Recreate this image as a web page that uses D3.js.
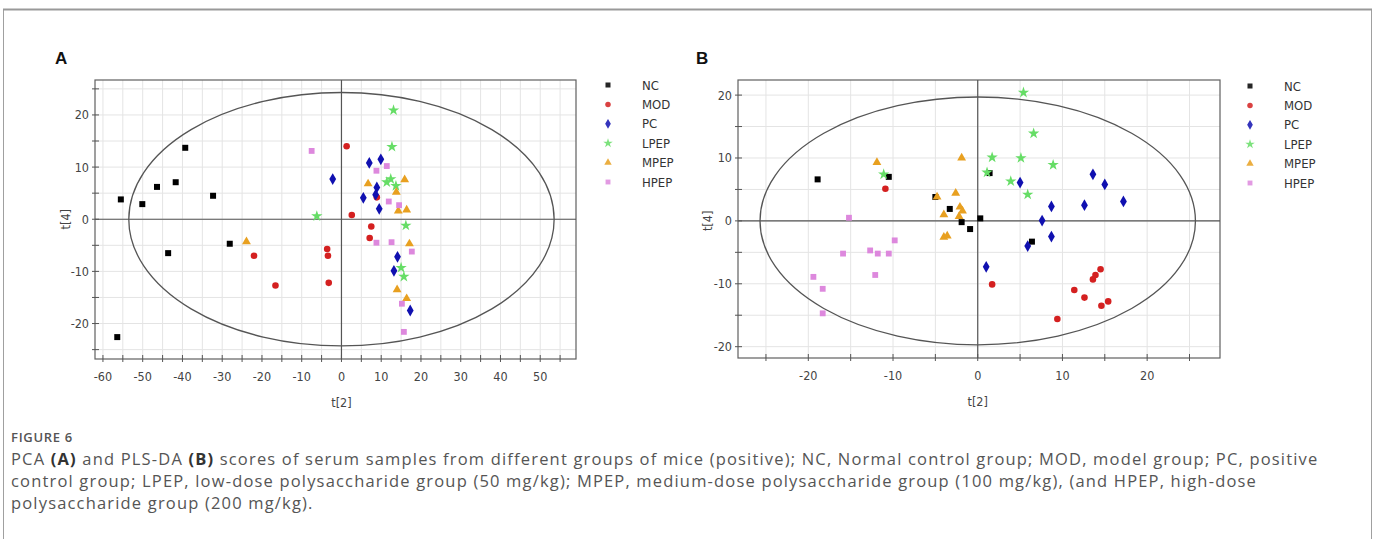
<!DOCTYPE html>
<html>
<head>
<meta charset="utf-8">
<script src="https://cdn.jsdelivr.net/npm/d3@7"></script>
<style>
  body { margin: 0; background: #fff; }
  svg { display: block; }
  .tick-label { font-family: "Liberation Sans Narrow", "Arial Narrow", "DejaVu Sans Condensed", sans-serif; font-size: 12.5px; fill: #444; }
  .legend-label { font-family: "Liberation Sans Narrow", "Arial Narrow", "DejaVu Sans Condensed", sans-serif; font-size: 13px; fill: #333; }
  .caption { font-family: "Open Sans", "Noto Sans", sans-serif; fill: #555; }
</style>
</head>
<body>
<script>
// canvas size
var w = 1375;
var h = 539;

// group names shared by both panels
var groups = ["NC", "MOD", "PC", "LPEP", "MPEP", "HPEP"];

// panel A (PCA) scores, [t2, t4]
var pcaNC = [[-55.5, 3.8], [-50.1, 2.9], [-46.4, 6.2], [-41.7, 7.1], [-39.3, 13.7], [-32.3, 4.5], [-43.6, -6.5], [-28.1, -4.7], [-56.4, -22.6]];
var pcaMOD = [[1.3, 14.0], [2.6, 0.8], [-22.0, -7.0], [-16.6, -12.7], [-3.6, -5.7], [-3.4, -7.0], [-3.2, -12.2], [7.5, -1.4], [7.1, -3.6], [8.9, 4.2]];
var pcaPC = [[-2.2, 7.7], [7.0, 10.8], [9.9, 11.5], [8.9, 6.1], [8.6, 4.7], [5.5, 4.1], [9.5, 2.0], [14.1, -7.2], [13.2, -9.9], [17.3, -17.5]];
var pcaLPEP = [[-6.2, 0.6], [13.1, 20.9], [12.7, 13.9], [12.4, 7.7], [11.4, 7.1], [13.7, 6.4], [16.2, -1.2], [15.0, -9.3], [15.7, -11.0]];
var pcaMPEP = [[-23.9, -4.3], [6.7, 6.8], [15.9, 7.6], [13.8, 5.2], [14.3, 1.6], [16.4, 1.8], [17.1, -4.7], [14.0, -13.5], [16.4, -15.2]];
var pcaHPEP = [[-7.5, 13.1], [8.8, 9.3], [11.4, 10.2], [11.9, 3.4], [14.5, 2.7], [8.8, -4.5], [12.6, -4.4], [17.7, -6.2], [15.2, -16.2], [15.7, -21.6]];

// panel B (PLS-DA) scores, [t2, t4]
var plsNC = [[-18.9, 6.6], [-10.5, 7.0], [-5.0, 3.8], [-3.3, 1.9], [-1.9, -0.2], [-0.9, -1.3], [0.3, 0.4], [1.4, 7.6], [6.4, -3.3]];
var plsMOD = [[-10.9, 5.1], [1.7, -10.1], [9.4, -15.6], [11.4, -11.0], [12.6, -12.2], [13.6, -9.3], [13.9, -8.6], [14.5, -7.7], [14.6, -13.5], [15.4, -12.8]];
var plsPC = [[1.0, -7.3], [5.0, 6.1], [5.9, -4.0], [7.6, 0.05], [8.7, 2.3], [8.7, -2.5], [12.6, 2.5], [13.6, 7.4], [15.0, 5.8], [17.2, 3.1]];
var plsLPEP = [[-11.1, 7.4], [5.4, 20.4], [6.6, 13.9], [1.7, 10.1], [5.1, 10.0], [8.9, 8.9], [1.1, 7.7], [3.9, 6.3], [5.9, 4.2]];
var plsMPEP = [[-11.9, 9.3], [-4.8, 3.8], [-1.9, 10.0], [-2.6, 4.4], [-2.1, 2.2], [-1.8, 1.6], [-4.0, 1.0], [-2.2, 0.7], [-4.0, -2.6], [-3.6, -2.4]];
var plsHPEP = [[-15.2, 0.5], [-9.8, -3.1], [-15.9, -5.2], [-12.7, -4.7], [-11.8, -5.2], [-10.5, -5.2], [-12.1, -8.6], [-19.4, -8.9], [-18.3, -10.8], [-18.3, -14.7]];

// axis ticks (minor every 5, labels every 10)
var pcaXTicks = d3.range(-60, 56, 5);
var pcaXLabels = [-60, -50, -40, -30, -20, -10, 0, 10, 20, 30, 40, 50];
var pcaYTicks = d3.range(-25, 26, 5);
var pcaYLabels = [-20, -10, 0, 10, 20];
var plsXTicks = d3.range(-25, 26, 5);
var plsXLabels = [-20, -10, 0, 10, 20];
var plsYTicks = d3.range(-20, 21, 5);
var plsYLabels = [-20, -10, 0, 10, 20];

// Hotelling T2 ellipse half-axes
var pcaEllipse = [53.5, 24.3];
var plsEllipse = [25.7, 19.7];

// style for each group
var colors = ["#000000", "#d42020", "#1010b0", "#66dd66", "#e8a020", "#dd88dd"];
var shapes = [d3.symbolSquare, d3.symbolCircle, d3.symbolDiamond, d3.symbolStar, d3.symbolTriangle, d3.symbolSquare];
var sizes = [36, 34, 40, 40, 34, 34];

var svg = d3.select("body")
            .append("svg")
            .attr("width", w)
            .attr("height", h);

// outer figure frame
svg.append("rect")
   .attr("x", 3.5).attr("y", 9.5)
   .attr("width", 1368).attr("height", 545)
   .attr("fill", "none")
   .attr("stroke", "#a0a0a0")
   .attr("stroke-width", 1);
svg.append("line")
   .attr("x1", 3).attr("x2", 1372).attr("y1", 9.5).attr("y2", 9.5)
   .attr("stroke", "#999").attr("stroke-width", 2);

function drawPanel(cfg) {
    var g = svg.append("g");
    var x = d3.scaleLinear().domain(cfg.xDomain).range(cfg.xRange);
    var y = d3.scaleLinear().domain(cfg.yDomain).range(cfg.yRange);
    var x0 = cfg.xRange[0], x1 = cfg.xRange[1];
    var y0 = cfg.yRange[1], y1 = cfg.yRange[0];

    // grid lines
    g.selectAll(".vgrid").data(cfg.xTicks).enter().append("line")
        .attr("x1", d => x(d)).attr("x2", d => x(d))
        .attr("y1", y0).attr("y2", y1)
        .attr("stroke", "#e4e4e4").attr("stroke-width", 1);
    g.selectAll(".hgrid").data(cfg.yTicks).enter().append("line")
        .attr("y1", d => y(d)).attr("y2", d => y(d))
        .attr("x1", x0).attr("x2", x1)
        .attr("stroke", "#e4e4e4").attr("stroke-width", 1);

    // plot frame
    g.append("rect")
        .attr("x", x0).attr("y", y0)
        .attr("width", x1 - x0).attr("height", y1 - y0)
        .attr("fill", "none").attr("stroke", "#606060").attr("stroke-width", 1.2);

    // zero lines
    g.append("line").attr("x1", x(0)).attr("x2", x(0)).attr("y1", y0).attr("y2", y1)
        .attr("stroke", "#555").attr("stroke-width", 1.2);
    g.append("line").attr("x1", x0).attr("x2", x1).attr("y1", y(0)).attr("y2", y(0))
        .attr("stroke", "#555").attr("stroke-width", 1.2);

    // ellipse
    g.append("ellipse")
        .attr("cx", x(0)).attr("cy", y(0))
        .attr("rx", x(cfg.ellipse[0]) - x(0))
        .attr("ry", y(0) - y(cfg.ellipse[1]))
        .attr("fill", "none").attr("stroke", "#555").attr("stroke-width", 1.3);

    // tick marks on bottom and left axes
    g.selectAll(".xt").data(cfg.xTicks).enter().append("line")
        .attr("x1", d => x(d)).attr("x2", d => x(d))
        .attr("y1", y1 - 4).attr("y2", y1 + 3)
        .attr("stroke", "#555");
    g.selectAll(".yt").data(cfg.yTicks).enter().append("line")
        .attr("y1", d => y(d)).attr("y2", d => y(d))
        .attr("x1", x0 - 3).attr("x2", x0 + 4)
        .attr("stroke", "#555");

    g.selectAll(".xl").data(cfg.xLabels).enter().append("text")
        .attr("class", "tick-label")
        .attr("x", d => x(d)).attr("y", y1 + 22)
        .attr("text-anchor", "middle")
        .text(d => d);
    g.selectAll(".yl").data(cfg.yLabels).enter().append("text")
        .attr("class", "tick-label")
        .attr("x", x0 - 6).attr("y", d => y(d) + 4.5)
        .attr("text-anchor", "end")
        .text(d => d);

    // axis titles
    g.append("text").attr("class", "tick-label")
        .attr("x", x(0)).attr("y", y1 + 48)
        .attr("text-anchor", "middle").text("t[2]");
    g.append("text").attr("class", "tick-label")
        .attr("transform", "translate(" + cfg.yTitleX + "," + y(0) + ") rotate(-90)")
        .attr("text-anchor", "middle").text("t[4]");

    // score points
    cfg.series.forEach(function(data, i) {
        g.selectAll(".p" + i).data(data).enter().append("path")
            .attr("d", d3.symbol().type(shapes[i]).size(sizes[i]))
            .attr("transform", d => "translate(" + x(d[0]) + "," + y(d[1]) + ")")
            .attr("fill", colors[i]);
    });

    // legend
    groups.forEach(function(name, i) {
        var ly = cfg.legendY + i * 19.4;
        g.append("path")
            .attr("d", d3.symbol().type(shapes[i]).size(sizes[i] * 0.7))
            .attr("transform", "translate(" + cfg.legendX + "," + ly + ")")
            .attr("fill", colors[i]).attr("opacity", 0.85);
        g.append("text").attr("class", "legend-label")
            .attr("x", cfg.legendX + 34).attr("y", ly + 4.5)
            .text(name);
    });

    // panel letter
    g.append("text")
        .attr("x", cfg.letterX).attr("y", 64)
        .attr("font-family", "Liberation Sans, Arial, sans-serif")
        .attr("font-weight", "bold").attr("font-size", 17)
        .attr("fill", "#111")
        .text(cfg.letter);
}

drawPanel({
    letter: "A", letterX: 55,
    xDomain: [-62, 59], xRange: [95, 576],
    yDomain: [-26.8, 26.7], yRange: [359, 80],
    xTicks: pcaXTicks, xLabels: pcaXLabels,
    yTicks: pcaYTicks, yLabels: pcaYLabels,
    ellipse: pcaEllipse, yTitleX: 70,
    series: [pcaNC, pcaMOD, pcaPC, pcaLPEP, pcaMPEP, pcaHPEP],
    legendX: 608, legendY: 85
});

drawPanel({
    letter: "B", letterX: 696,
    xDomain: [-28.3, 28.6], xRange: [738, 1220],
    yDomain: [-21.8, 22.4], yRange: [358, 80],
    xTicks: plsXTicks, xLabels: plsXLabels,
    yTicks: plsYTicks, yLabels: plsYLabels,
    ellipse: plsEllipse, yTitleX: 712,
    series: [plsNC, plsMOD, plsPC, plsLPEP, plsMPEP, plsHPEP],
    legendX: 1250, legendY: 86
});

// caption
var fig = svg.append("text").attr("class", "caption")
   .attr("x", 11).attr("y", 442)
   .attr("font-size", 13).attr("font-weight", 600)
   .text("FIGURE 6");
fig.attr("letter-spacing", (62 - fig.node().getComputedTextLength()) / 8);

var captionLines = [
    [["PCA ", false], ["(A)", true], [" and PLS-DA ", false], ["(B)", true], [" scores of serum samples from different groups of mice (positive); NC, Normal control group; MOD, model group; PC, positive", false]],
    [["control group; LPEP, low-dose polysaccharide group (50 mg/kg); MPEP, medium-dose polysaccharide group (100 mg/kg), (and HPEP, high-dose", false]],
    [["polysaccharide group (200 mg/kg).", false]]
];
var captionNodes = captionLines.map(function(parts, i) {
    var t = svg.append("text").attr("class", "caption")
        .attr("x", 11).attr("y", 465 + i * 22)
        .attr("font-size", 16.5);
    parts.forEach(function(p) {
        t.append("tspan")
         .attr("font-weight", p[1] ? "bold" : "normal")
         .attr("fill", p[1] ? "#333" : "#555")
         .text(p[0]);
    });
    return t;
});
// one letter spacing for the block, set so the second line ends where it does in the figure
var line2 = captionLines[1][0][0];
var spacing = (1257 - 11 - captionNodes[1].node().getComputedTextLength()) / line2.length;
captionNodes.forEach(function(t) { t.attr("letter-spacing", spacing); });
</script>
</body>
</html>
